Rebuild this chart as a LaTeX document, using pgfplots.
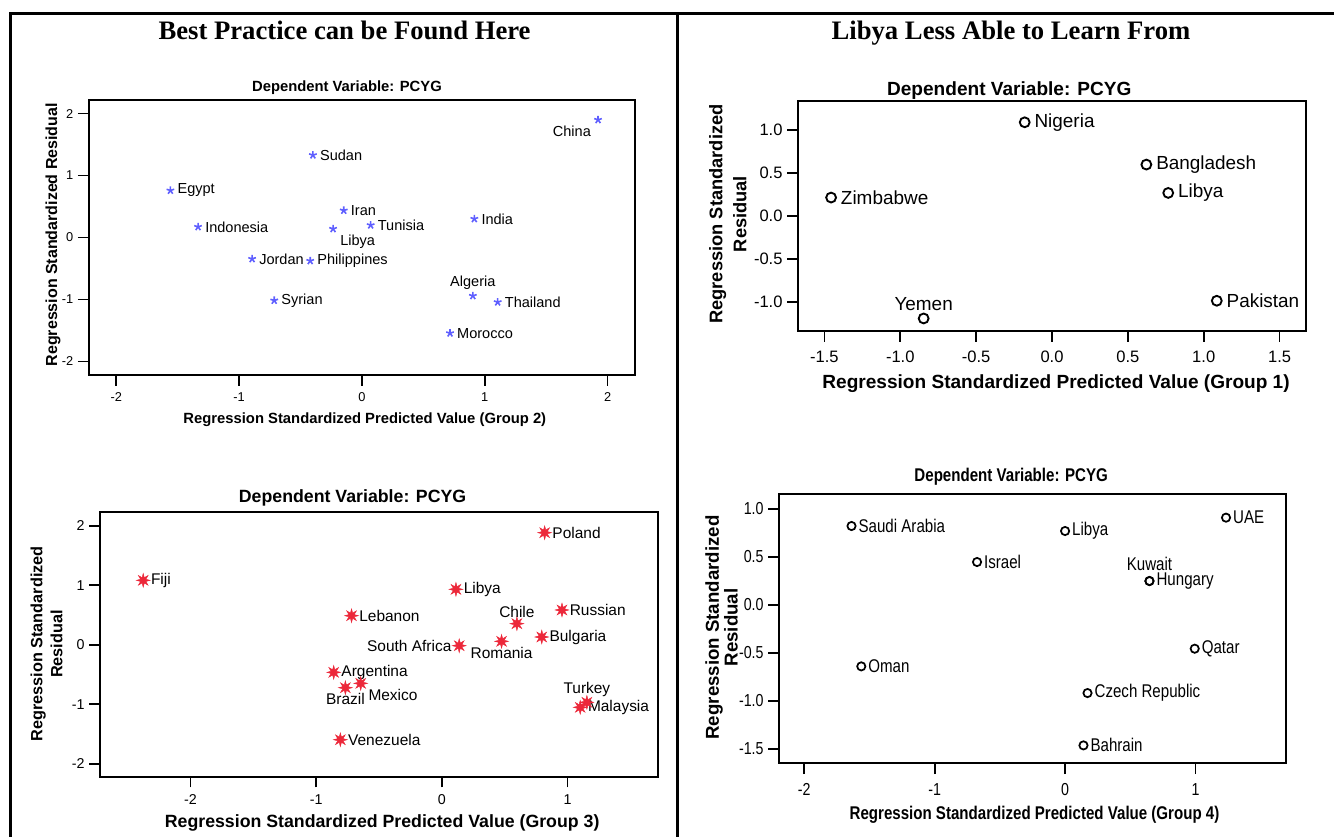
\documentclass[border=0pt]{standalone}
\usepackage{pgfplots}
\pgfplotsset{compat=1.18}
\usepackage{fontspec}
\setmainfont{Liberation Serif}
\newfontfamily\ars{Liberation Sans}
\newfontfamily\arsD[FakeStretch=0.82]{Liberation Sans}
\definecolor{blueA}{RGB}{95,95,255}
\definecolor{redA}{RGB}{236,40,58}

\pgfdeclareplotmark{burst}{%
 \pgfpathmoveto{\pgfqpoint{1\pgfplotmarksize}{0\pgfplotmarksize}}%
 \pgfpathlineto{\pgfqpoint{0.388\pgfplotmarksize}{0.161\pgfplotmarksize}}%
 \pgfpathlineto{\pgfqpoint{0.707\pgfplotmarksize}{0.707\pgfplotmarksize}}%
 \pgfpathlineto{\pgfqpoint{0.161\pgfplotmarksize}{0.388\pgfplotmarksize}}%
 \pgfpathlineto{\pgfqpoint{0\pgfplotmarksize}{1\pgfplotmarksize}}%
 \pgfpathlineto{\pgfqpoint{-0.161\pgfplotmarksize}{0.388\pgfplotmarksize}}%
 \pgfpathlineto{\pgfqpoint{-0.707\pgfplotmarksize}{0.707\pgfplotmarksize}}%
 \pgfpathlineto{\pgfqpoint{-0.388\pgfplotmarksize}{0.161\pgfplotmarksize}}%
 \pgfpathlineto{\pgfqpoint{-1\pgfplotmarksize}{0\pgfplotmarksize}}%
 \pgfpathlineto{\pgfqpoint{-0.388\pgfplotmarksize}{-0.161\pgfplotmarksize}}%
 \pgfpathlineto{\pgfqpoint{-0.707\pgfplotmarksize}{-0.707\pgfplotmarksize}}%
 \pgfpathlineto{\pgfqpoint{-0.161\pgfplotmarksize}{-0.388\pgfplotmarksize}}%
 \pgfpathlineto{\pgfqpoint{0\pgfplotmarksize}{-1\pgfplotmarksize}}%
 \pgfpathlineto{\pgfqpoint{0.161\pgfplotmarksize}{-0.388\pgfplotmarksize}}%
 \pgfpathlineto{\pgfqpoint{0.707\pgfplotmarksize}{-0.707\pgfplotmarksize}}%
 \pgfpathlineto{\pgfqpoint{0.388\pgfplotmarksize}{-0.161\pgfplotmarksize}}%
 \pgfpathclose
 \pgfusepathqfillstroke}

\pgfplotsset{
 myax/.style={
  scale only axis, anchor=south west, clip=false,
  axis line style={line width=1.4pt},
  tick style={line width=1.3pt, black},
  major tick length=8pt,
  tick align=outside,
  xtick pos=bottom, ytick pos=left,
  enlargelimits=false,
 },
 lab/.style={
  only marks,
  nodes near coords, point meta=explicit symbolic,
  nodes near coords style={anchor=#1, text=black},
 },
 pA/.style={mark=star, mark size=3pt, color=blueA, mark options={line width=1.2pt},
  nodes near coords style={font=\ars\fontsize{10.9}{13}\selectfont, inner xsep=4.8pt, inner ysep=4.2pt}},
 pB/.style={mark=o, mark size=3.7pt, color=black, mark options={line width=1.4pt},
  nodes near coords style={font=\ars\fontsize{14.2}{17}\selectfont, inner xsep=6.7pt, inner ysep=5pt}},
 pC/.style={mark=burst, mark size=5.2pt, color=redA, mark options={line width=0.3pt, fill=redA, draw=redA},
  nodes near coords style={font=\ars\fontsize{11.6}{14}\selectfont, inner xsep=5.7pt, inner ysep=4.2pt}},
 pD/.style={mark=o, mark size=3.1pt, color=black, mark options={line width=1.3pt},
  nodes near coords style={font=\arsD\fontsize{13.8}{16}\selectfont, inner xsep=4.7pt, inner ysep=4.5pt}},
}

\begin{document}
\begin{tikzpicture}
\useasboundingbox (0,0) rectangle (1000.5pt,627pt);
\draw[line width=2.25pt] (7.5pt,-2pt) -- (7.5pt,616.5pt) -- (1003pt,616.5pt);
\draw[line width=2.25pt] (507.75pt,-2pt) -- (507.75pt,616.5pt);
\node[anchor=base, inner sep=0pt, font=\bfseries\fontsize{20}{24}\selectfont] at (258.4pt,597pt) {Best Practice can be Found Here};
\node[anchor=base, inner sep=0pt, font=\bfseries\fontsize{20}{24}\selectfont] at (758.25pt,597pt) {Libya Less Able to Learn From};

% Plot 1 (Group 2)
\begin{axis}[myax, at={(66.45pt,345.75pt)}, width=410pt, height=206.25pt,
 xmin=-2.225, xmax=2.225, ymin=-2.22, ymax=2.22,
 xtick={-2,-1,0,1,2}, xticklabels={-2,-1,0,1,2},
 ytick={-2,-1,0,1,2}, yticklabels={-2,-1,0,1,2},
 ticklabel style={font=\ars\fontsize{9.6}{11}\selectfont},
 xticklabel style={yshift=-1.5pt},
 title={Dependent Variable: PCYG},
 title style={at={(axis description cs:0.4726,1.048)}, anchor=center, yshift=-7pt, font=\ars\bfseries\fontsize{11.1}{13}\selectfont},
 xlabel={Regression Standardized Predicted Value (Group 2)},
 xlabel style={at={(axis description cs:0.5053,-0.164)}, anchor=center, font=\ars\bfseries\fontsize{11.1}{13}\selectfont},
 ylabel={Regression Standardized Residual},
 ylabel style={at={(axis description cs:-0.0651,0.51)}, anchor=center, font=\ars\bfseries\fontsize{12}{14}\selectfont},
]
\addplot[lab=west, pA] coordinates {
 (-0.399,1.33) [Sudan] (-1.559,0.759) [Egypt] (-0.148,0.436) [Iran]
 (0.071,0.199) [Tunisia] (0.915,0.301) [India] (-1.334,0.172) [Indonesia]
 (-0.894,-0.345) [Jordan] (-0.421,-0.377) [Philippines] (1.105,-1.044) [Thailand]
 (-0.714,-1.017) [Syrian] (0.717,-1.545) [Morocco]};
\addplot[lab=north east, pA] coordinates {(1.922,1.90) [China]};
\addplot[lab=north west, pA] coordinates {(-0.235,0.14) [Libya]};
\addplot[lab=south, pA] coordinates {(0.903,-0.942) [Algeria]};
\end{axis}

% Plot 2 (Group 1)
\begin{axis}[myax, at={(598.4pt,378.75pt)}, width=381.2pt, height=172.7pt,
 xmin=-1.675, xmax=1.675, ymin=-1.34, ymax=1.34,
 xtick={-1.5,-1,-0.5,0,0.5,1,1.5}, xticklabels={-1.5,-1.0,-0.5,0.0,0.5,1.0,1.5},
 ytick={-1,-0.5,0,0.5,1}, yticklabels={-1.0,-0.5,0.0,0.5,1.0},
 ticklabel style={font=\ars\fontsize{12.4}{14}\selectfont},
 xticklabel style={yshift=-3.5pt},
 title={Dependent Variable: PCYG},
 title style={at={(axis description cs:0.416,1.0495)}, anchor=center, yshift=-7pt, font=\ars\bfseries\fontsize{14.3}{17}\selectfont},
 xlabel={Regression Standardized Predicted Value (Group 1)},
 xlabel style={at={(axis description cs:0.508,-0.227)}, anchor=center, font=\ars\bfseries\fontsize{14.3}{17}\selectfont},
 ylabel={Regression Standardized\\Residual},
 ylabel style={at={(axis description cs:-0.138,0.508)}, anchor=center, align=center, font=\ars\bfseries\fontsize{13.7}{18}\selectfont},
]
\addplot[lab=west, pB] coordinates {
 (-0.180,1.089) [Nigeria] (0.622,0.597) [Bangladesh] (0.766,0.267) [Libya]
 (-1.456,0.213) [Zimbabwe] (1.086,-0.988) [Pakistan]};
\addplot[lab=south, pB] coordinates {(-0.846,-1.194) [Yemen]};
\end{axis}

% Plot 3 (Group 3)
\begin{axis}[myax, at={(74.9pt,44.5pt)}, width=418.4pt, height=198.3pt,
 xmin=-2.722, xmax=1.718, ymin=-2.218, ymax=2.225,
 xtick={-2,-1,0,1}, xticklabels={-2,-1,0,1},
 ytick={-2,-1,0,1,2}, yticklabels={-2,-1,0,1,2},
 ticklabel style={font=\ars\fontsize{10.7}{12}\selectfont},
 xticklabel style={yshift=-2pt},
 title={Dependent Variable: PCYG},
 title style={at={(axis description cs:0.453,1.059)}, anchor=center, yshift=-7pt, font=\ars\bfseries\fontsize{13.3}{16}\selectfont},
 xlabel={Regression Standardized Predicted Value (Group 3)},
 xlabel style={at={(axis description cs:0.506,-0.174)}, anchor=center, font=\ars\bfseries\fontsize{13.3}{16}\selectfont},
 ylabel={Regression Standardized\\Residual},
 ylabel style={at={(axis description cs:-0.0957,0.502)}, anchor=center, align=center, font=\ars\bfseries\fontsize{12.2}{15}\selectfont},
]
\addplot[lab=west, pC] coordinates {
 (0.818,1.882) [Poland] (-2.377,1.081) [Fiji] (0.112,0.930) [Libya]
 (-0.719,0.487) [Lebanon] (0.956,0.583) [Russian] (0.795,0.129) [Bulgaria]
 (-0.861,-0.465) [Argentina] (1.101,-1.053) [Malaysia] (-0.808,-1.597) [Venezuela]};
\addplot[lab=south, pC] coordinates {(0.597,0.353) [Chile] (1.154,-0.969) [Turkey]};
\addplot[lab=north, pC] coordinates {(0.475,0.056) [Romania] (-0.768,-0.723) [Brazil]};
\addplot[lab=east, pC] coordinates {(0.138,-0.017) [South Africa]};
\addplot[lab=north west, pC] coordinates {(-0.646,-0.650) [Mexico]};
\end{axis}

% Plot 4 (Group 4)
\begin{axis}[myax, at={(584.2pt,54.5pt)}, width=380.3pt, height=201.75pt,
 xmin=-2.194, xmax=1.694, ymin=-1.649, ymax=1.153,
 xtick={-2,-1,0,1}, xticklabels={-2,-1,0,1},
 ytick={-1.5,-1,-0.5,0,0.5,1}, yticklabels={-1.5,-1.0,-0.5,0.0,0.5,1.0},
 ticklabel style={font=\arsD\fontsize{13}{15}\selectfont},
 xticklabel style={yshift=-3.5pt},
 title={Dependent Variable: PCYG},
 title style={at={(axis description cs:0.458,1.072)}, anchor=center, yshift=-7pt, font=\arsD\bfseries\fontsize{13.8}{16}\selectfont},
 xlabel={Regression Standardized Predicted Value (Group 4)},
 xlabel style={at={(axis description cs:0.504,-0.192)}, anchor=center, font=\arsD\bfseries\fontsize{13.8}{16}\selectfont},
 ylabel={Regression Standardized\\Residual},
 ylabel style={at={(axis description cs:-0.113,0.505)}, anchor=center, align=center, font=\ars\bfseries\fontsize{14}{14}\selectfont},
]
\addplot[lab=west, pD] coordinates {
 (-1.6375,0.823) [Saudi Arabia] (0.0,0.771) [Libya] (1.234,0.910) [UAE]
 (-0.675,0.448) [Israel] (0.647,0.25) [Hungary] (0.994,-0.455) [Qatar]
 (-1.5625,-0.639) [Oman] (0.172,-0.917) [Czech Republic] (0.141,-1.462) [Bahrain]};
\addplot[lab=south, pD, nodes near coords style={inner ysep=6.8pt}] coordinates {(0.647,0.25) [Kuwait]};
\end{axis}
\end{tikzpicture}
\end{document}
